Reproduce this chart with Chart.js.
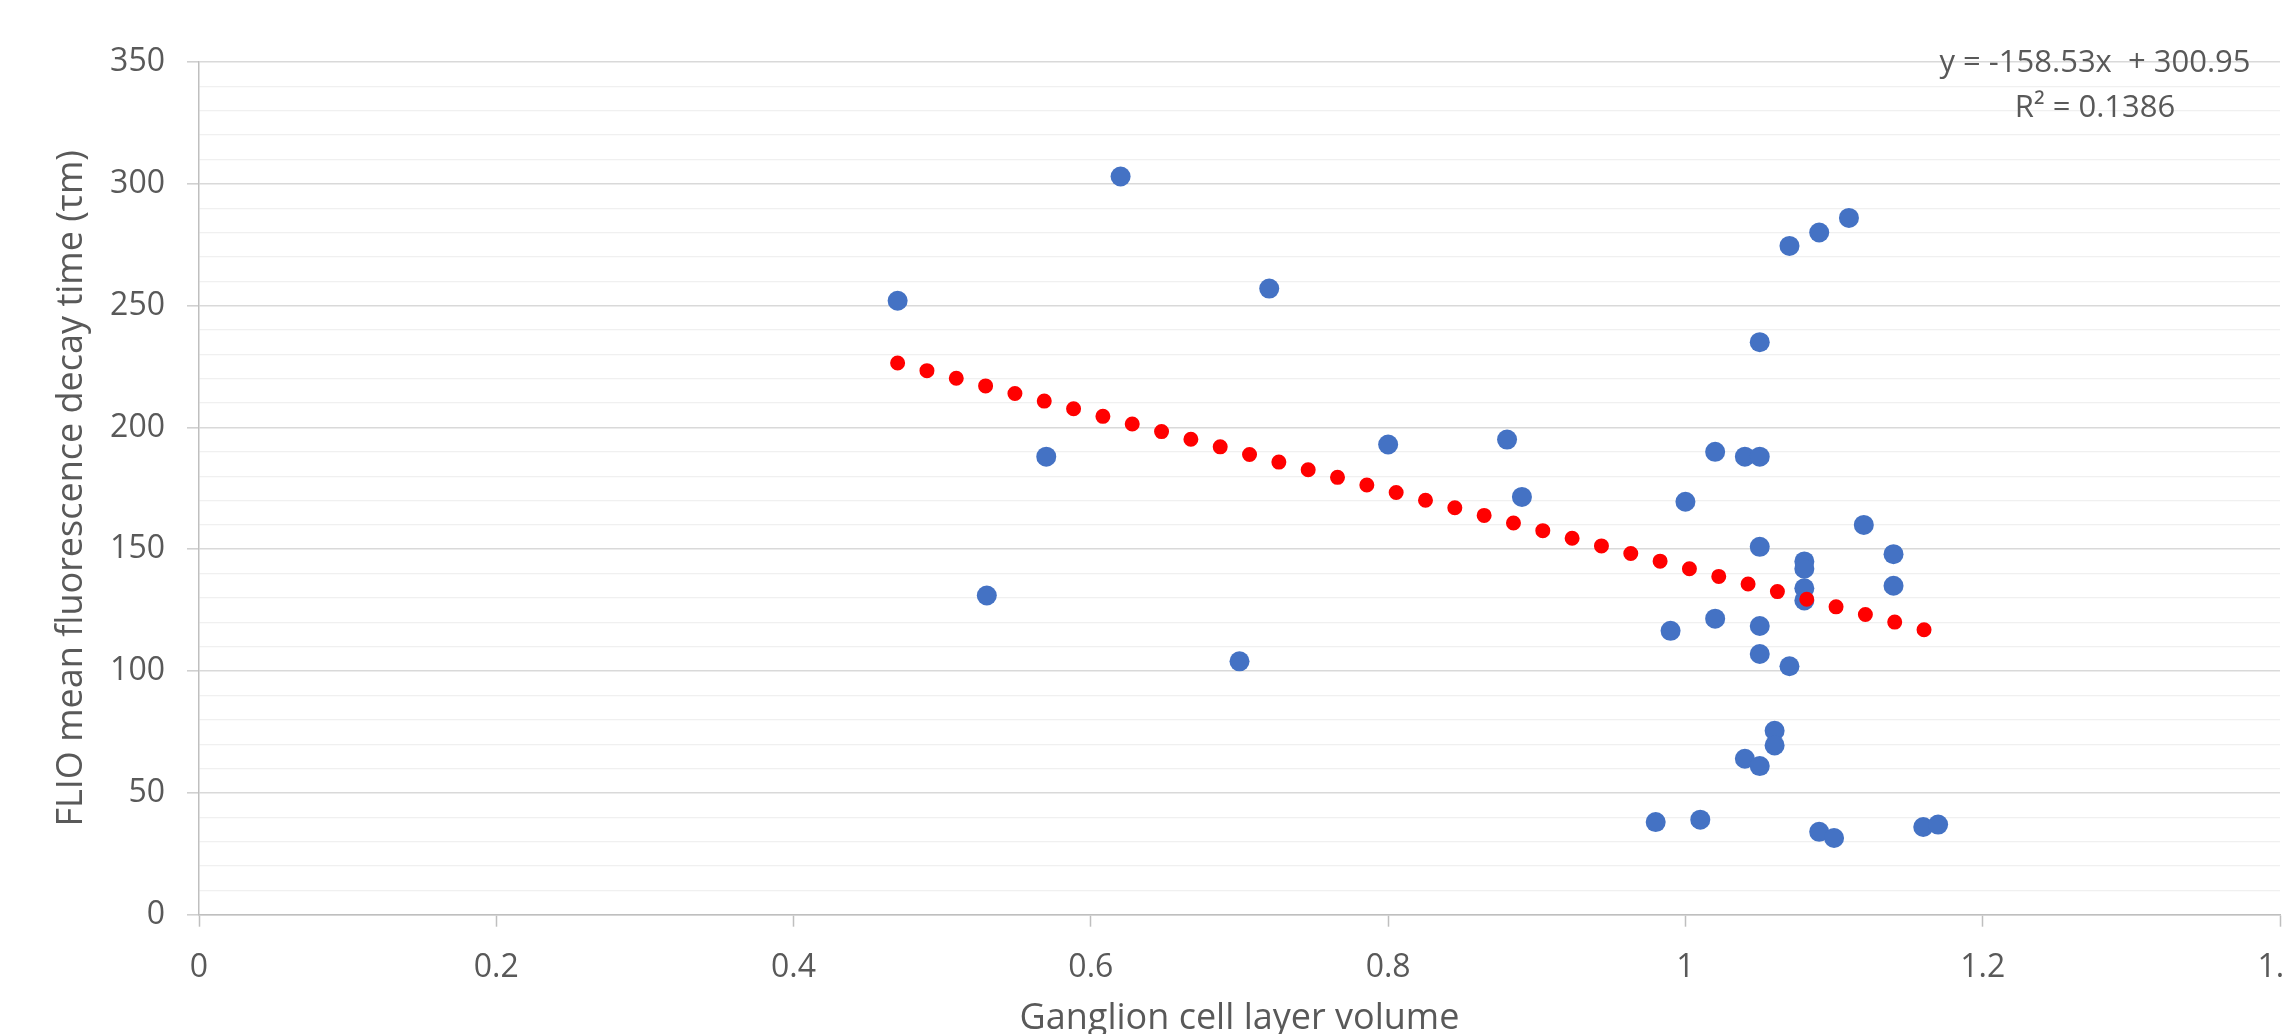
<!DOCTYPE html>
<html>
<head>
<meta charset="utf-8">
<script src="https://cdn.jsdelivr.net/npm/chart.js@4/dist/chart.umd.min.js"></script>
<style>
    html, body { margin: 0; padding: 0; background: #fff; overflow: hidden; }
    #wrap { width: 2290px; height: 1034px; }
</style>
</head>
<body>
<div id="wrap"><canvas id="chart"></canvas></div>
<script>
// ganglion cell layer volume (x) vs FLIO mean decay time (y), one entry per eye
var gclVolume = [0.47, 0.62, 0.72, 0.57, 0.53, 0.70, 0.80, 0.88, 0.89, 1.00,
    1.02, 1.04, 1.05, 1.05, 1.07, 1.09, 1.11, 1.12, 1.05, 1.08,
    1.08, 1.14, 1.08, 1.08, 1.14, 1.02, 0.99, 1.05, 1.05, 1.07,
    1.06, 1.06, 1.04, 1.05, 0.98, 1.01, 1.09, 1.10, 1.16, 1.17];
var decayTime = [252, 303, 257, 188, 131, 104, 193, 195, 171.5, 169.5,
    190, 188, 188, 235, 274.5, 280, 286, 160, 151, 145,
    142, 148, 134, 129, 135, 121.5, 116.5, 118.5, 107, 102,
    75.5, 69.5, 64, 61, 38, 39, 34, 31.5, 36, 37];

// linear trendline printed on the chart
var trendSlope = -158.53;
var trendIntercept = 300.95;
var trendR2 = 0.1386;

var xRange = [0, 1.4];
var xStep = 0.2;
var yRange = [0, 350];
var yMinorStep = 10;
var yMajorStep = 50;

var textColor = '#595959';
var fontFamily = '"Open Sans", "Noto Sans", sans-serif';

function buildPoints() {
    var result = [];
    for (let i = 0; i < gclVolume.length; i++) {
        result.push({ x: gclVolume[i], y: decayTime[i] });
    }
    return result;
}

function buildTrend() {
    var minX = Math.min.apply(null, gclVolume);
    var maxX = Math.max.apply(null, gclVolume);
    return [
        { x: minX, y: trendSlope * minX + trendIntercept },
        { x: maxX, y: trendSlope * maxX + trendIntercept }
    ];
}

function isMajor(ctx) {
    return ctx.tick && Math.round(ctx.tick.value) % yMajorStep === 0;
}

var equationPlugin = {
    id: 'equation',
    afterDraw(chart) {
        var ctx = chart.ctx;
        var cx = chart.chartArea.right - 185;
        ctx.save();
        ctx.font = '31px ' + fontFamily;
        ctx.fillStyle = textColor;
        ctx.textAlign = 'center';
        ctx.textBaseline = 'middle';
        ctx.fillText('y = ' + trendSlope.toFixed(2) + 'x  + ' + trendIntercept.toFixed(2), cx, 63);
        ctx.fillText('R\u00B2 = ' + trendR2.toFixed(4), cx, 108);
        ctx.restore();
    }
};

var scatterConfig = {
    type: 'scatter',
    data: {
        datasets: [{
            label: 'Linear trend',
            data: buildTrend(),
            showLine: true,
            borderColor: '#ff0000',
            borderWidth: 15,
            borderDash: [0, 30.3],
            borderCapStyle: 'round',
            pointRadius: 0,
            order: 0,
        }, {
            label: 'FLIO',
            data: buildPoints(),
            backgroundColor: '#4472c4',
            borderWidth: 0,
            pointRadius: 10,
            pointHoverRadius: 10,
            order: 1,
        }]
    },
    options: {
        responsive: true,
        maintainAspectRatio: false,
        animation: false,
        devicePixelRatio: 1,
        layout: { padding: { top: 62, right: 6, left: 0, bottom: 0 } },
        plugins: {
            legend: { display: false },
            tooltip: { enabled: false },
        },
        scales: {
            x: {
                type: 'linear',
                min: xRange[0],
                max: xRange[1],
                afterFit(scale) {
                    scale.height = 1034 - 914.7;
                    scale.paddingLeft = 0;
                    scale.paddingRight = 0;
                },
                ticks: {
                    stepSize: xStep,
                    maxTicksLimit: 100,
                    autoSkip: false,
                    maxRotation: 0,
                    padding: 22,
                    color: textColor,
                    font: { family: fontFamily, size: 32 },
                    callback: v => String(Math.round(v * 10) / 10),
                },
                grid: {
                    drawOnChartArea: false,
                    drawTicks: true,
                    tickLength: 12,
                    tickColor: '#bfbfbf',
                    tickWidth: 1.5,
                },
                border: { display: true, color: '#bfbfbf', width: 1.5 },
                title: {
                    display: true,
                    text: 'Ganglion cell layer volume',
                    color: textColor,
                    font: { family: fontFamily, size: 36, lineHeight: 0.86 },
                    padding: { top: 0, bottom: 0 },
                },
            },
            y: {
                type: 'linear',
                min: yRange[0],
                max: yRange[1],
                afterFit(scale) {
                    scale.width = 199;
                },
                ticks: {
                    stepSize: yMinorStep,
                    maxTicksLimit: 100,
                    autoSkip: false,
                    padding: 22,
                    color: textColor,
                    font: { family: fontFamily, size: 32 },
                    callback: v => (Math.round(v) % yMajorStep === 0 ? String(Math.round(v)) : ''),
                },
                grid: {
                    color: ctx => (isMajor(ctx) ? '#d9d9d9' : '#f0f0f0'),
                    lineWidth: ctx => (isMajor(ctx) ? 1.6 : 1.3),
                    drawTicks: true,
                    tickLength: 12,
                    tickColor: ctx => (isMajor(ctx) ? '#d0d0d0' : 'rgba(0,0,0,0)'),
                },
                border: { display: true, color: '#bfbfbf', width: 1.5 },
                title: {
                    display: true,
                    text: 'FLIO mean fluorescence decay time (\u03C4m)',
                    color: textColor,
                    font: { family: fontFamily, size: 36, lineHeight: 1 },
                    padding: { top: 54, bottom: 0 },
                },
            }
        }
    },
    plugins: [equationPlugin]
};

var ctx = document.getElementById('chart');
var myChart = new Chart(ctx, scatterConfig);
</script>
</body>
</html>
